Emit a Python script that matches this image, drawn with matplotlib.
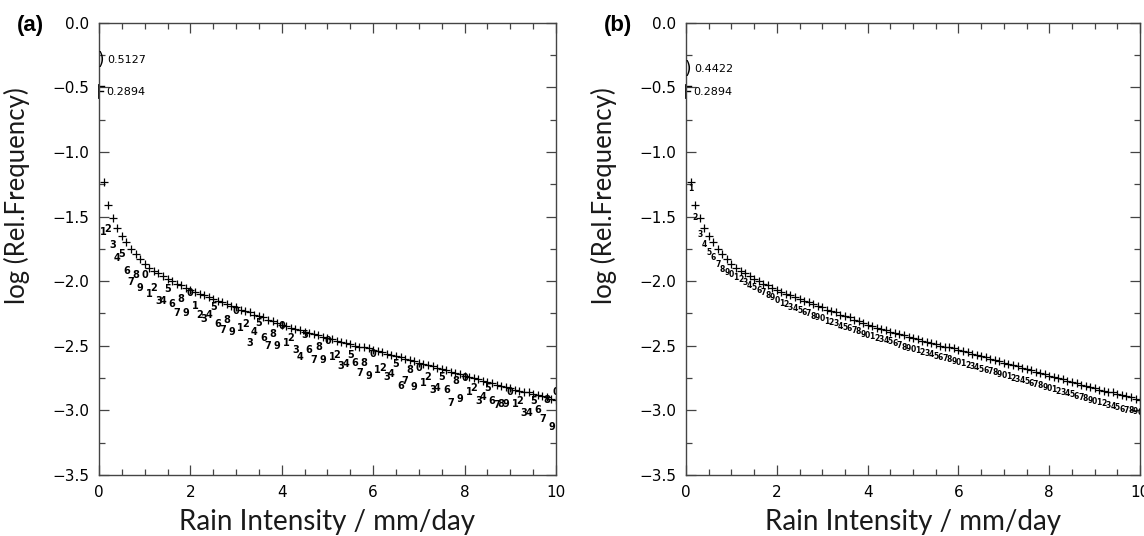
import numpy as np
import matplotlib
matplotlib.use('Agg')
import matplotlib.pyplot as plt
from matplotlib import transforms
from matplotlib.ticker import MultipleLocator

plt.rcParams['font.family'] = ['Lato', 'DejaVu Sans']

# rain intensity bins (mm/day), 0.1 .. 10.0
rain = np.round(np.arange(1, 101) * 0.1, 1)

# log10 relative frequency, "+" series (same in both panels)
obs = [-1.23, -1.41, -1.51, -1.59, -1.65, -1.70, -1.75, -1.79, -1.83, -1.87,
       -1.90, -1.92, -1.94, -1.96, -1.98, -2.00, -2.02, -2.03, -2.05, -2.07,
       -2.08, -2.10, -2.11, -2.12, -2.14, -2.15, -2.16, -2.18, -2.19, -2.20,
       -2.22, -2.23, -2.24, -2.26, -2.27, -2.28, -2.30, -2.31, -2.32, -2.34,
       -2.35, -2.36, -2.37, -2.38, -2.39, -2.40, -2.41, -2.42, -2.43, -2.44,
       -2.45, -2.46, -2.47, -2.48, -2.49, -2.50, -2.51, -2.51, -2.52, -2.53,
       -2.54, -2.55, -2.56, -2.57, -2.58, -2.59, -2.60, -2.61, -2.62, -2.63,
       -2.64, -2.65, -2.66, -2.67, -2.68, -2.69, -2.70, -2.71, -2.72, -2.73,
       -2.74, -2.75, -2.76, -2.77, -2.78, -2.79, -2.80, -2.81, -2.82, -2.83,
       -2.84, -2.85, -2.86, -2.86, -2.87, -2.88, -2.89, -2.90, -2.91, -2.92]

# digit series, panel (a)
model_a = [-1.62, -1.60, -1.72, -1.82, -1.79, -1.92, -2.01, -1.95, -2.05, -1.95,
           -2.10, -2.05, -2.15, -2.15, -2.06, -2.18, -2.25, -2.14, -2.25, -2.09,
           -2.19, -2.26, -2.29, -2.26, -2.20, -2.33, -2.38, -2.30, -2.39, -2.23,
           -2.36, -2.33, -2.48, -2.39, -2.32, -2.44, -2.50, -2.41, -2.50, -2.35,
           -2.48, -2.44, -2.53, -2.59, -2.42, -2.53, -2.61, -2.51, -2.61, -2.46,
           -2.59, -2.57, -2.66, -2.64, -2.57, -2.63, -2.71, -2.63, -2.73, -2.56,
           -2.69, -2.67, -2.74, -2.72, -2.64, -2.81, -2.77, -2.69, -2.82, -2.67,
           -2.79, -2.74, -2.84, -2.83, -2.74, -2.84, -2.94, -2.77, -2.91, -2.75,
           -2.86, -2.83, -2.93, -2.90, -2.83, -2.93, -2.96, -2.95, -2.95, -2.86,
           -2.95, -2.93, -3.02, -3.02, -2.93, -3.00, -3.07, -2.92, -3.13, -2.86]

# digit series, panel (b)
model_b = [-1.28, -1.51, -1.64, -1.72, -1.78, -1.82, -1.87, -1.91, -1.93, -1.95,
           -1.97, -1.99, -2.01, -2.03, -2.05, -2.07, -2.09, -2.11, -2.13, -2.15,
           -2.17, -2.18, -2.20, -2.21, -2.23, -2.24, -2.25, -2.27, -2.28, -2.29,
           -2.31, -2.32, -2.33, -2.35, -2.36, -2.37, -2.38, -2.39, -2.41, -2.42,
           -2.43, -2.44, -2.45, -2.46, -2.47, -2.48, -2.50, -2.51, -2.52, -2.53,
           -2.54, -2.55, -2.56, -2.57, -2.58, -2.59, -2.60, -2.61, -2.62, -2.63,
           -2.64, -2.65, -2.66, -2.67, -2.68, -2.69, -2.70, -2.71, -2.72, -2.73,
           -2.74, -2.75, -2.76, -2.77, -2.78, -2.79, -2.80, -2.81, -2.82, -2.83,
           -2.84, -2.85, -2.86, -2.87, -2.88, -2.89, -2.90, -2.91, -2.92, -2.93,
           -2.94, -2.95, -2.96, -2.97, -2.98, -2.99, -3.00, -3.00, -3.01, -3.02]

# ratios marked on the y axis (drawn at log10 of the value)
ratios_a = [0.5127, 0.2894]
ratios_b = [0.4422, 0.2894]


def setup_axes(ax):
    ax.set_xlim(0, 10)
    ax.set_ylim(-3.5, 0)
    ax.xaxis.set_major_locator(MultipleLocator(2))
    ax.xaxis.set_minor_locator(MultipleLocator(0.5))
    ax.yaxis.set_major_locator(MultipleLocator(0.5))
    ax.yaxis.set_minor_locator(MultipleLocator(0.25))
    ax.tick_params(which='both', direction='in', top=True, right=True,
                   color='#444444', labelsize=11, width=0.9)
    ax.tick_params(which='major', length=7)
    ax.tick_params(which='minor', length=4.5)
    ax.tick_params(axis='x', pad=7)
    ax.tick_params(axis='y', pad=7)
    for lab in ax.get_xticklabels() + ax.get_yticklabels():
        lab.set_family('DejaVu Sans')
    for s in ax.spines.values():
        s.set_linewidth(1.0)
        s.set_color('#444444')
    ax.set_xlabel('Rain Intensity / mm/day', fontsize=20, color='#1a1a1a')
    ax.set_ylabel('log (Rel.Frequency)', fontsize=18.5, color='#1a1a1a')
    ax.xaxis.label.set_va('center')
    ax.xaxis.set_label_coords(0.5, -0.105)
    ax.yaxis.set_label_coords(-0.151, 0.617)


def mark_ratios(ax, ratios):
    tr = transforms.blended_transform_factory(ax.transAxes, ax.transData)
    px = 1.0 / ax.get_window_extent().width
    # first one: ")" symbol
    y0 = np.log10(ratios[0])
    ax.text(2 * px, y0, ')', transform=tr, fontsize=12, ha='center', va='center',
            family='DejaVu Sans')
    ax.text(8 * px, y0, '%.4f' % ratios[0], transform=tr, fontsize=8,
            family='DejaVu Sans', va='center')
    # second one: F-like bracket
    y1 = np.log10(ratios[1])
    ax.plot([0, 0], [y1 + 0.055, y1 - 0.045], transform=tr, color='black', lw=1.3, clip_on=False)
    ax.plot([0, 5 * px], [y1 + 0.05, y1 + 0.05], transform=tr, color='black', lw=1.0, clip_on=False)
    ax.plot([0, 4 * px], [y1 + 0.01, y1 + 0.01], transform=tr, color='black', lw=1.0, clip_on=False)
    ax.text(7 * px, y1, '%.4f' % ratios[1], transform=tr, fontsize=8,
            family='DejaVu Sans', va='center')


def draw_panel(ax, model, digit_size, label):
    setup_axes(ax)
    ax.plot(rain, obs, ls='none', marker='+', ms=5.5, mew=0.9, color='black')
    for i, (x, y) in enumerate(zip(rain, model)):
        ax.text(x, y, str((i + 1) % 10), fontsize=digit_size, fontweight='bold',
                family='DejaVu Sans', ha='center', va='center', clip_on=True)
    pos = ax.get_position()
    fig.text(pos.x0 - 0.072, pos.y1 - 0.005, label, fontsize=16, fontweight='bold',
             family='Liberation Sans', ha='left', va='center')


fig = plt.figure(figsize=(11.44, 5.36), dpi=100)
ax_a = fig.add_axes([0.0865, 0.1138, 0.3995, 0.8438])
ax_b = fig.add_axes([0.5997, 0.1138, 0.3969, 0.8438])

draw_panel(ax_a, model_a, 7, '(a)')
draw_panel(ax_b, model_b, 5.5, '(b)')
mark_ratios(ax_a, ratios_a)
mark_ratios(ax_b, ratios_b)

fig.savefig('out.png', dpi=100)
